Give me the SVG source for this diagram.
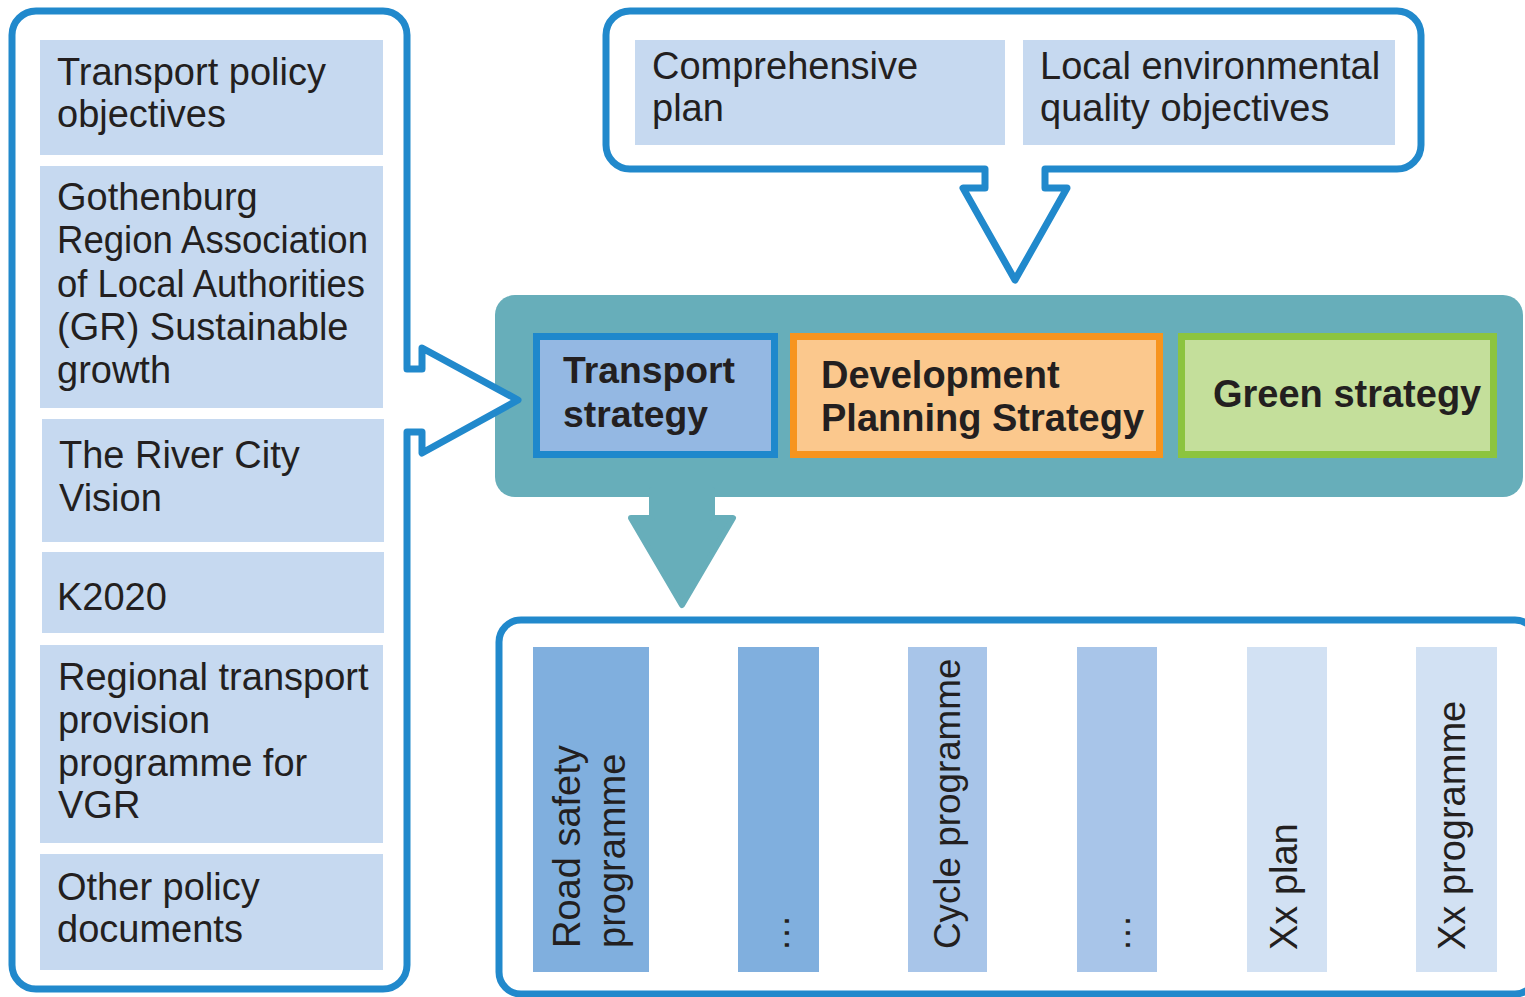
<svg xmlns="http://www.w3.org/2000/svg" width="1525" height="997" viewBox="0 0 1525 997">
<style>
.panel{fill:#fff;stroke:#2189CC;stroke-width:7;stroke-linejoin:round}
.box{fill:#C6D9F0}
.t{font-family:"Liberation Sans",Arial,sans-serif;font-size:38px;fill:#231F20}
.b{font-family:"Liberation Sans",Arial,sans-serif;font-size:38px;font-weight:bold;fill:#231F20}
.teal{fill:#67AEBA}
.c1{fill:#80AFDE}
.c2{fill:#A8C5E9}
.c3{fill:#D2E1F3}
</style>
<rect width="1525" height="997" fill="#fff"/>

<g id="strategy-band">
<rect class="teal" x="495" y="295" width="1028" height="202" rx="20"/>
</g>

<g id="left-panel">
<path class="panel" d="M36,11 H383 A24,24 0 0 1 407,35 V369 H422 V348 L518,400 L422,453 V432 H407 V965 A24,24 0 0 1 383,989 H36 A24,24 0 0 1 12,965 V35 A24,24 0 0 1 36,11 Z"/>
</g>
<g id="box-transport-policy">
<rect class="box" x="40" y="40" width="343" height="115"/>
<text class="t" x="57" y="85">Transport policy</text>
<text class="t" x="57" y="127">objectives</text>
</g>
<g id="box-gothenburg">
<rect class="box" x="40" y="166" width="343" height="242"/>
<text class="t" x="57" y="210">Gothenburg</text>
<text class="t" x="57" y="253" textLength="311" lengthAdjust="spacingAndGlyphs">Region Association</text>
<text class="t" x="57" y="297" textLength="308" lengthAdjust="spacingAndGlyphs">of Local Authorities</text>
<text class="t" x="57" y="340">(GR) Sustainable</text>
<text class="t" x="57" y="383">growth</text>
</g>
<g id="box-river-city">
<rect class="box" x="42" y="419" width="342" height="123"/>
<text class="t" x="59" y="468">The River City</text>
<text class="t" x="59" y="511">Vision</text>
</g>
<g id="box-k2020">
<rect class="box" x="42" y="552" width="342" height="81"/>
<text class="t" x="57" y="610">K2020</text>
</g>
<g id="box-regional">
<rect class="box" x="40" y="645" width="343" height="198"/>
<text class="t" x="58" y="690">Regional transport</text>
<text class="t" x="58" y="733">provision</text>
<text class="t" x="58" y="776">programme for</text>
<text class="t" x="58" y="818">VGR</text>
</g>
<g id="box-other">
<rect class="box" x="40" y="854" width="343" height="116"/>
<text class="t" x="57" y="900">Other policy</text>
<text class="t" x="57" y="942">documents</text>
</g>

<g id="top-panel">
<path class="panel" d="M630,11 H1397 A24,24 0 0 1 1421,35 V145 A24,24 0 0 1 1397,169 H1045 V188 H1067 L1015,280 L963,188 H985 V169 H630 A24,24 0 0 1 606,145 V35 A24,24 0 0 1 630,11 Z"/>
</g>
<g id="box-comprehensive">
<rect class="box" x="635" y="40" width="370" height="105"/>
<text class="t" x="652" y="79">Comprehensive</text>
<text class="t" x="652" y="121">plan</text>
</g>
<g id="box-local-env">
<rect class="box" x="1023" y="40" width="372" height="105"/>
<text class="t" x="1040" y="79">Local environmental</text>
<text class="t" x="1040" y="121">quality objectives</text>
</g>

<g id="transport-strategy">
<rect x="536.5" y="336.5" width="238" height="118" fill="#94B8E3" stroke="#1E88CC" stroke-width="7"/>
<text class="b" x="563" y="383" style="font-size:37.3px">Transport</text>
<text class="b" x="563" y="427" style="font-size:37.3px">strategy</text>
</g>
<g id="development-strategy">
<rect x="793.5" y="336.5" width="366" height="118" fill="#FBC88D" stroke="#F7941E" stroke-width="7"/>
<text class="b" x="821" y="388">Development</text>
<text class="b" x="821" y="431">Planning Strategy</text>
</g>
<g id="green-strategy">
<rect x="1181.5" y="336.5" width="312" height="118" fill="#C4DF9B" stroke="#8CC43F" stroke-width="7"/>
<text class="b" x="1213" y="407">Green strategy</text>
</g>

<g id="connectors">
<path d="M652,490 V518 H631 L682,605 L733,518 H712 V490 Z" fill="#67AEBA" stroke="#67AEBA" stroke-width="6" stroke-linejoin="round"/>
</g>

<g id="bottom-panel">
<rect class="panel" x="499" y="620" width="1038" height="374" rx="22" stroke-width="6"/>
</g>
<g id="col-road-safety">
<rect class="c1" x="533" y="647" width="116" height="325"/>
<text class="t" transform="translate(580,948) rotate(-90)">Road safety</text>
<text class="t" transform="translate(625,948) rotate(-90)">programme</text>
</g>
<g id="col-dots-1">
<rect class="c1" x="738" y="647" width="81" height="325"/>
<text class="t" transform="translate(789,952) rotate(-90)">…</text>
</g>
<g id="col-cycle">
<rect class="c2" x="908" y="647" width="79" height="325"/>
<text class="t" transform="translate(960,949) rotate(-90)" style="font-size:36.8px">Cycle programme</text>
</g>
<g id="col-dots-2">
<rect class="c2" x="1077" y="647" width="80" height="325"/>
<text class="t" transform="translate(1130,952) rotate(-90)">…</text>
</g>
<g id="col-xx-plan">
<rect class="c3" x="1247" y="647" width="80" height="325"/>
<text class="t" transform="translate(1297,950) rotate(-90)">Xx plan</text>
</g>
<g id="col-xx-programme">
<rect class="c3" x="1416" y="647" width="81" height="325"/>
<text class="t" transform="translate(1465,950) rotate(-90)">Xx programme</text>
</g>
</svg>
